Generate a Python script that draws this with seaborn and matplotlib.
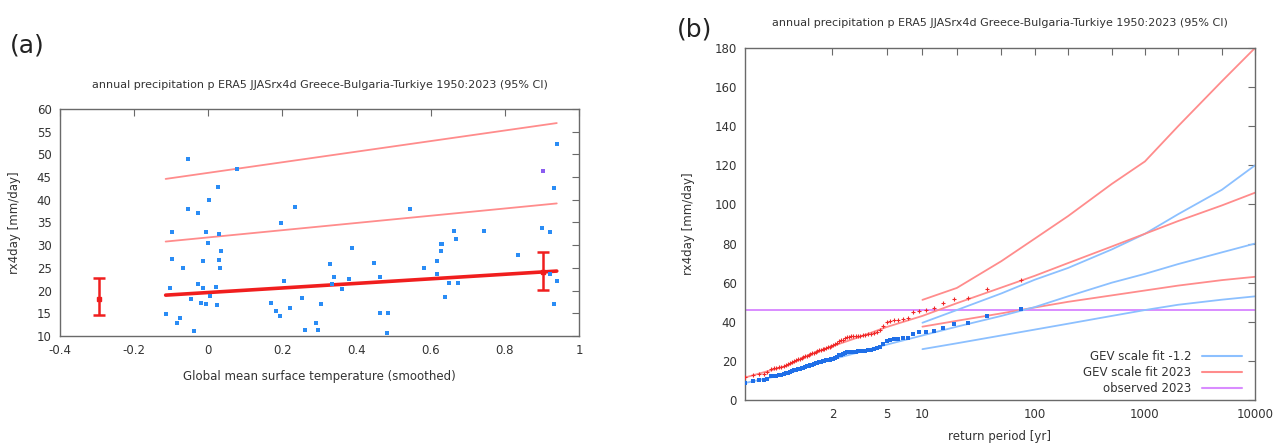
import numpy as np
import pandas as pd
import matplotlib
matplotlib.use("Agg")
import matplotlib.pyplot as plt
import seaborn as sns
from matplotlib.lines import Line2D

sns.set_style("white")
plt.rcParams['font.family'] = ['DejaVu Sans']

# ---------------- panel (a) data ----------------
gmst_obs = [-0.114, -0.103, -0.097, -0.097, -0.085, -0.076, -0.067, -0.055, -0.055, -0.046,
            -0.038, -0.027, -0.027, -0.021, -0.014, -0.013, -0.007, -0.007, 0.000, 0.002,
            0.004, 0.022, 0.024, 0.027, 0.030, 0.030, 0.032, 0.035, 0.078, 0.168,
            0.183, 0.194, 0.196, 0.203, 0.221, 0.235, 0.254, 0.261, 0.291, 0.296,
            0.305, 0.328, 0.333, 0.340, 0.360, 0.380, 0.389, 0.448, 0.463, 0.463,
            0.483, 0.486, 0.545, 0.581, 0.616, 0.618, 0.628, 0.631, 0.629, 0.638,
            0.650, 0.663, 0.669, 0.673, 0.745, 0.836, 0.899, 0.922, 0.922, 0.932,
            0.933, 0.940, 0.941]
rx4d_obs = [14.8, 20.6, 32.9, 26.9, 12.9, 13.9, 25.0, 49.0, 37.9, 18.1,
            11.0, 37.0, 21.5, 17.2, 20.5, 26.6, 17.0, 32.8, 30.4, 39.9,
            18.8, 20.9, 16.9, 42.9, 32.4, 26.8, 25.0, 28.8, 46.8, 17.3,
            15.4, 14.5, 34.9, 22.2, 16.2, 38.4, 18.4, 11.4, 12.8, 11.4,
            17.1, 25.8, 21.4, 23.0, 20.4, 22.6, 29.4, 26.0, 23.1, 15.1,
            10.6, 15.0, 37.9, 25.0, 23.6, 26.5, 30.3, 30.3, 28.8, 18.5,
            21.6, 33.2, 31.3, 21.6, 33.1, 27.9, 33.7, 32.8, 23.6, 17.1,
            42.6, 52.2, 22.1]
obs2023_gmst = [0.903]
obs2023_val = [46.4]

fit_gmst = [-0.115, 0.940]
fit_mu = [19.0, 24.3]
fit_rp_low = [30.8, 39.2]
fit_rp_high = [44.6, 56.9]

errbar_x = [-0.295, 0.904]
errbar_mid = [18.2, 24.2]
errbar_lo = [14.7, 20.1]
errbar_hi = [22.7, 28.6]

# ---------------- panel (b) data ----------------
red_sorted = [11.9, 13.0, 13.2, 13.5, 14.2, 16.0, 16.3, 16.5, 16.7, 16.9,
              17.4, 17.9, 18.4, 19.0, 19.6, 20.1, 20.4, 20.8, 21.2, 21.5,
              21.9, 22.3, 22.6, 23.0, 23.4, 23.8, 24.2, 24.6, 25.0, 25.4,
              25.7, 26.0, 26.2, 26.6, 27.0, 27.2, 27.4, 27.9, 28.6, 29.3,
              30.0, 30.5, 30.9, 31.5, 32.1, 32.4, 32.5, 32.6, 32.7, 32.7,
              32.8, 33.0, 33.3, 33.7, 34.0, 34.5, 35.0, 35.6, 37.6, 39.8,
              40.4, 40.8, 41.0, 41.5, 41.9, 44.8, 45.7, 46.0, 46.8, 49.4,
              51.6, 52.3, 56.6, 61.3]
blue_sorted = [8.9, 9.9, 10.0, 10.2, 10.8, 12.1, 12.3, 12.5, 12.7, 12.8,
               13.2, 13.6, 14.0, 14.4, 14.9, 15.2, 15.5, 15.8, 16.1, 16.3,
               16.6, 16.9, 17.2, 17.5, 17.8, 18.1, 18.4, 18.7, 19.0, 19.3,
               19.5, 19.7, 19.9, 20.2, 20.5, 20.7, 20.8, 21.2, 21.7, 22.2,
               22.8, 23.2, 23.5, 23.9, 24.4, 24.6, 24.7, 24.8, 24.8, 24.9,
               24.9, 25.1, 25.3, 25.6, 25.8, 26.2, 26.6, 27.0, 28.6, 30.2,
               30.7, 31.0, 31.2, 31.5, 31.8, 34.0, 34.7, 35.0, 35.5, 36.8,
               38.9, 39.6, 43.0, 46.4]

rp_fit = [1.0135, 1.2, 1.5, 2, 3, 5, 10, 20, 50, 100, 200, 500, 1000, 2000, 5000, 10000]
red_fit_mid = [11.5, 17.5, 23.3, 27.5, 32.0, 37.3, 43.0, 49.5, 57.5, 63.5, 70.0, 78.5, 85.0, 91.5, 99.5, 106.0]
blue_fit_mid = [8.7, 13.3, 17.5, 20.8, 24.3, 28.3, 33.0, 37.5, 43.0, 47.5, 53.0, 60.0, 64.5, 69.5, 75.5, 80.0]

rp_ci = [10, 20, 50, 100, 200, 500, 1000, 2000, 5000, 10000]
red_ci_hi = [51.2, 57.3, 71.0, 82.5, 94.0, 110.5, 122.0, 140.0, 163.0, 180.0]
red_ci_lo = [37.5, 40.5, 44.3, 47.3, 50.2, 53.5, 56.0, 58.5, 61.3, 63.0]
blue_ci_hi = [39.5, 46.0, 54.5, 61.5, 67.5, 77.0, 85.0, 95.0, 107.5, 120.0]
blue_ci_lo = [26.0, 29.0, 33.0, 36.0, 39.0, 43.0, 46.0, 48.7, 51.3, 53.0]

observed_2023 = 46.2
rp_limits = [1.0135, 10000]

title = "annual precipitation p ERA5 JJASrx4d Greece-Bulgaria-Turkiye 1950:2023 (95% CI)"

# ---------------- colours ----------------
C_PT_BLUE = "#2a8cf5"
C_LT_RED = "#ff8c8c"
C_RED = "#f01e1e"
C_LT_BLUE = "#8cc0ff"
C_PURPLE = "#d98cff"
C_FRAME = "#6a6a6a"
C_TEXT = "#333333"

fig = plt.figure(figsize=(12.79, 4.46), dpi=100)
W, H = 1279, 446


def axes_px(x0, y0, x1, y1):
    return fig.add_axes([x0 / W, 1 - y1 / H, (x1 - x0) / W, (y1 - y0) / H])


def style(ax):
    for s in ax.spines.values():
        s.set_color(C_FRAME)
        s.set_linewidth(1.0)
    ax.tick_params(which="both", direction="in", top=True, right=True, length=5,
                   width=0.8, color=C_FRAME, labelsize=8.5, labelcolor=C_TEXT)
    ax.tick_params(axis="x", pad=6)
    ax.tick_params(axis="y", pad=6)


# ---------------- panel (a) ----------------
ax = axes_px(60, 109, 579, 336)
df_obs = pd.DataFrame({"gmst": gmst_obs, "rx4d": rx4d_obs})
sns.scatterplot(data=df_obs, x="gmst", y="rx4d", ax=ax, color=C_PT_BLUE, marker="s",
                s=9, linewidth=0, zorder=3)
sns.scatterplot(x=obs2023_gmst, y=obs2023_val, ax=ax, color="#8a5cf0", marker="s",
                s=12, linewidth=0, zorder=4)
df_fit = pd.DataFrame({"gmst": fit_gmst, "mu": fit_mu, "lo": fit_rp_low, "hi": fit_rp_high})
sns.lineplot(data=df_fit, x="gmst", y="hi", ax=ax, color=C_LT_RED, lw=1.3, estimator=None, zorder=2)
sns.lineplot(data=df_fit, x="gmst", y="lo", ax=ax, color=C_LT_RED, lw=1.3, estimator=None, zorder=2)
sns.lineplot(data=df_fit, x="gmst", y="mu", ax=ax, color=C_RED, lw=2.6, estimator=None, zorder=2)
ax.errorbar(errbar_x, errbar_mid,
            yerr=[np.subtract(errbar_mid, errbar_lo), np.subtract(errbar_hi, errbar_mid)],
            fmt="s", ms=3, color=C_RED, ecolor=C_RED, elinewidth=1.8, capsize=4,
            capthick=1.8, zorder=5)
ax.set_xlim(-0.4, 1.0)
ax.set_ylim(10, 60)
ax.set_xticks(np.arange(-0.4, 1.01, 0.2))
ax.set_xticklabels(["-0.4", "-0.2", "0", "0.2", "0.4", "0.6", "0.8", "1"])
ax.set_yticks(np.arange(10, 61, 5))
style(ax)
ax.set_xlabel("Global mean surface temperature (smoothed)", fontsize=8.5, color=C_TEXT)
ax.set_ylabel("rx4day [mm/day]", fontsize=8.5, color=C_TEXT)
ax.xaxis.set_label_coords(0.5, -0.148)
ax.yaxis.set_label_coords(-0.076, 0.5)
fig.text(320 / W, 1 - 85 / H, title, ha="center", va="center", fontsize=8, color=C_TEXT)
fig.text(10 / W, 1 - 46 / H, "(a)", ha="left", va="center", fontsize=18, color="#222222")

# ---------------- panel (b) ----------------
def gumbel_fwd(t):
    t = np.asarray(t, dtype=float)
    with np.errstate(divide="ignore", invalid="ignore"):
        p = np.clip(1.0 - 1.0 / t, 1e-12, 1 - 1e-15)
        return -np.log(-np.log(p))


def gumbel_inv(g):
    g = np.asarray(g, dtype=float)
    return 1.0 / (1.0 - np.exp(-np.exp(-g)))


bx = axes_px(745, 48, 1255, 400)
n = len(red_sorted)
rank = np.arange(1, n + 1)
rp_obs = (n + 1) / (n + 1 - rank)   # empirical plotting positions
df_pts = pd.DataFrame({"rp": rp_obs, "red": red_sorted, "blue": blue_sorted})
df_mid = pd.DataFrame({"rp": rp_fit, "red": red_fit_mid, "blue": blue_fit_mid})
df_ci = pd.DataFrame({"rp": rp_ci, "rhi": red_ci_hi, "rlo": red_ci_lo,
                      "bhi": blue_ci_hi, "blo": blue_ci_lo})

bx.axhline(observed_2023, color=C_PURPLE, lw=1.4, zorder=1)
for col in ["bhi", "blo"]:
    sns.lineplot(data=df_ci, x="rp", y=col, ax=bx, color=C_LT_BLUE, lw=1.3, estimator=None, sort=False)
for col in ["rhi", "rlo"]:
    sns.lineplot(data=df_ci, x="rp", y=col, ax=bx, color=C_LT_RED, lw=1.3, estimator=None, sort=False)
sns.lineplot(data=df_mid, x="rp", y="blue", ax=bx, color=C_LT_BLUE, lw=1.3, estimator=None, sort=False)
sns.lineplot(data=df_mid, x="rp", y="red", ax=bx, color=C_LT_RED, lw=1.3, estimator=None, sort=False)
sns.scatterplot(data=df_pts, x="rp", y="blue", ax=bx, color="#1f6fe8", marker="s", s=5,
                linewidth=0, zorder=4)
sns.scatterplot(data=df_pts, x="rp", y="red", ax=bx, color="#f02828", marker="+", s=12,
                linewidth=0.8, zorder=4)

handles = [Line2D([], [], color=C_LT_BLUE, lw=1.5),
           Line2D([], [], color=C_LT_RED, lw=1.5),
           Line2D([], [], color=C_PURPLE, lw=1.5)]
labels = ["GEV scale fit -1.2", "GEV scale fit 2023", "observed 2023"]

bx.set_xscale("function", functions=(gumbel_fwd, gumbel_inv))
bx.set_xlim(rp_limits[0], rp_limits[1])
bx.set_ylim(0, 180)
bx.set_yticks(np.arange(0, 181, 20))
bx.set_xticks([2, 5, 10, 100, 1000, 10000])
bx.set_xticklabels(["2", "5", "10", "100", "1000", "10000"])
bx.set_xticks([20, 50, 200, 500, 2000, 5000], minor=True)
bx.xaxis.set_minor_formatter(matplotlib.ticker.NullFormatter())
style(bx)
bx.set_xlabel("return period [yr]", fontsize=8.5, color=C_TEXT)
bx.set_ylabel("rx4day [mm/day]", fontsize=8.5, color=C_TEXT)
bx.xaxis.set_label_coords(0.5, -0.085)
bx.yaxis.set_label_coords(-0.098, 0.5)
leg = bx.legend(handles, labels, loc="lower right", bbox_to_anchor=(0.988, -0.005),
                frameon=False, markerfirst=False, fontsize=8.5, handlelength=3.4,
                handletextpad=0.9, labelspacing=0.25, borderaxespad=0.2)
for t in leg.get_texts():
    t.set_color(C_TEXT)
fig.text(1000 / W, 1 - 23 / H, title, ha="center", va="center", fontsize=8, color=C_TEXT)
fig.text(677 / W, 1 - 30 / H, "(b)", ha="left", va="center", fontsize=18, color="#222222")

fig.savefig("out.png", dpi=100)
